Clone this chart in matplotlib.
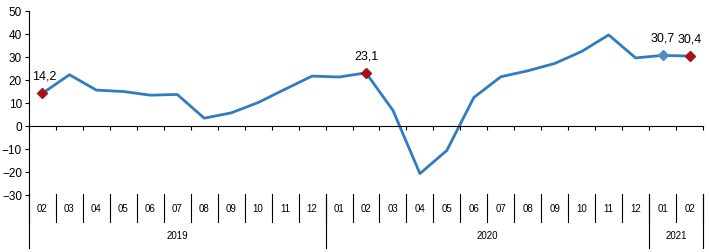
import numpy as np
import matplotlib
matplotlib.use("Agg")
import matplotlib.pyplot as plt

plt.rcParams['font.family'] = ['Liberation Sans', 'DejaVu Sans']

# monthly values, 2019-02 .. 2021-02
months = ["02", "03", "04", "05", "06", "07", "08", "09", "10", "11", "12",
          "01", "02", "03", "04", "05", "06", "07", "08", "09", "10", "11", "12",
          "01", "02"]
years = ["2019", "2020", "2021"]
year_counts = [11, 12, 2]
values = [14.2, 22.3, 15.6, 15.0, 13.4, 13.7, 3.4, 5.7, 10.2, 16.0, 21.7,
          21.3, 23.1, 6.8, -20.7, -10.6, 12.4, 21.4, 24.0, 27.2, 32.4, 39.6, 29.6,
          30.7, 30.4]
# labelled points: index -> (text, marker colour)
marked = {0: ("14,2", "#A5121C"), 12: ("23,1", "#A5121C"),
          23: ("30,7", "#5589C6"), 24: ("30,4", "#A5121C")}

W, H = 709, 252
fig = plt.figure(figsize=(W / 100, H / 100), dpi=100)
ax = fig.add_axes([29 / W, 1 - 195 / H, (703 - 29) / W, (195 - 11) / H])

x = np.arange(len(values))
ax.plot(x, values, color="#2F7DC0", lw=2.0, solid_joinstyle="round", zorder=2)
for i, (txt, col) in marked.items():
    ax.plot(x[i], values[i], marker="D", ms=5.5, color=col, zorder=3)
    ax.annotate(txt, (x[i], values[i]), xytext=(1 if i == 0 else 0, 12),
                textcoords="offset points", ha="center", va="center", fontsize=9)

ax.set_xlim(-0.5, len(values) - 0.5)
ax.set_ylim(-30, 50)
ax.set_yticks(range(-30, 51, 10))
ax.tick_params(axis="y", labelsize=8.5, length=3, width=0.8, pad=2)
for s in ["top", "right"]:
    ax.spines[s].set_visible(False)
ax.spines["bottom"].set_position(("data", 0))
ax.spines["left"].set_linewidth(0.8)
ax.spines["bottom"].set_linewidth(0.8)
ax.set_xticks(np.arange(len(values) + 1) - 0.5)
ax.set_xticklabels([])
ax.tick_params(axis="x", direction="out", length=3, width=0.8)

# category table below the plot
tr = matplotlib.transforms.blended_transform_factory(ax.transData, fig.transFigure)
y_top = 1 - 194 / H
y_mon = 1 - 222 / H
y_yr = 1 - 248 / H
for i, m in enumerate(months):
    ax.text(i, 1 - 209 / H, m, transform=tr, ha="center", va="center", fontsize=7)
for b in range(len(months) + 1):
    ax.plot([b - 0.5, b - 0.5], [y_top, y_mon], transform=tr, color="black",
            lw=0.8, clip_on=False)
start = 0
for yr, n in zip(years, year_counts):
    ax.plot([start - 0.5, start - 0.5], [y_top, y_yr], transform=tr, color="black",
            lw=0.8, clip_on=False)
    ax.text(start + (n - 1) / 2, 1 - 236 / H, yr, transform=tr, ha="center",
            va="center", fontsize=7)
    start += n
ax.plot([start - 0.5, start - 0.5], [y_top, y_yr], transform=tr, color="black",
        lw=0.8, clip_on=False)

fig.savefig("out.png", dpi=100)
